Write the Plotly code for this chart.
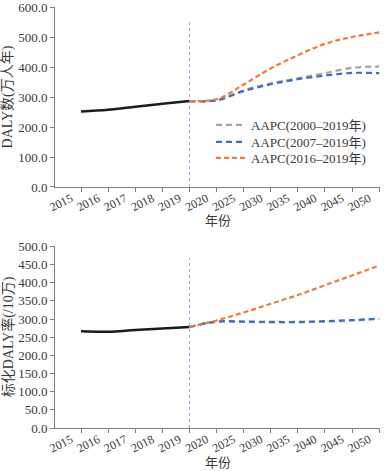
import plotly.graph_objects as go
from plotly.subplots import make_subplots

# Categories (x axis)
hist_years = ["2015", "2016", "2017", "2018", "2019"]
fc_years = ["2019", "2020", "2025", "2030", "2035", "2040", "2045", "2050"]
all_years = ["2015", "2016", "2017", "2018", "2019", "2020", "2025", "2030", "2035", "2040", "2045", "2050"]

# Top panel: DALY counts (10,000 person-years)
daly_hist = [252, 258, 268, 278, 287]
daly_aapc_2000 = [287, 290, 323, 346, 363, 380, 398, 402]
daly_aapc_2007 = [287, 289, 320, 343, 360, 372, 381, 380]
daly_aapc_2016 = [287, 293, 342, 396, 440, 478, 501, 516]

# Bottom panel: standardized DALY rate (/100,000)
rate_hist = [266, 265, 270, 274, 278]
rate_aapc_2000 = [278, 292, 292, 291, 291, 293, 296, 300]
rate_aapc_2007 = [278, 293, 293, 292, 292, 294, 297, 301]
rate_aapc_2016 = [278, 296, 318, 342, 366, 393, 420, 447]

series_names = ["AAPC(2000–2019年)", "AAPC(2007–2019年)", "AAPC(2016–2019年)"]
colors = ["#A5A5A5", "#3F6EC0", "#EE7C3A"]
dashes = ["6px,4px", "6px,4px", "5px,3px"]
legend_ids = ["legend", "legend2", "legend3"]

FONT = "Liberation Serif, Noto Sans CJK SC, serif"
TXT = "#3a3a3a"

fig = make_subplots(rows=2, cols=1, vertical_spacing=0.0)

def add_panel(row, hist, fcs, showlegend):
    fig.add_trace(go.Scatter(x=hist_years, y=hist, mode="lines", line=dict(color="#1b1b1b", width=2.5, shape="spline"),
                             showlegend=False, hoverinfo="skip"), row=row, col=1)
    for name, vals, c, d, lg in zip(series_names, fcs, colors, dashes, legend_ids):
        fig.add_trace(go.Scatter(x=fc_years, y=vals, mode="lines", name=name,
                                 line=dict(color=c, width=2.2, dash=d, shape="spline", smoothing=1.0),
                                 showlegend=showlegend, legend=lg), row=row, col=1)

add_panel(1, daly_hist, [daly_aapc_2000, daly_aapc_2007, daly_aapc_2016], True)
add_panel(2, rate_hist, [rate_aapc_2000, rate_aapc_2007, rate_aapc_2016], False)

idx2019 = all_years.index("2019")
fig.add_shape(type="line", x0=idx2019, x1=idx2019, y0=0, y1=550, xref="x", yref="y",
              line=dict(color="#8EA9DB", width=1, dash="dot"), layer="below")
fig.add_shape(type="line", x0=idx2019, x1=idx2019, y0=0, y1=467, xref="x2", yref="y2",
              line=dict(color="#8EA9DB", width=1, dash="dot"), layer="below")

axis_common = dict(showgrid=False, zeroline=False, showline=True, linecolor="#7f7f7f", linewidth=1,
                   ticks="outside", ticklen=4, tickcolor="#7f7f7f", ticklabeloverflow="allow")

for r in (1, 2):
    fig.update_xaxes(type="category", categoryorder="array", categoryarray=all_years,
                     tickvals=all_years, ticktext=all_years, range=[-0.96, 11.03], tickangle=-27,
                     tickfont=dict(family=FONT, size=12, color=TXT),
                     ticklabelshift=-10, ticklabelstandoff=-5, row=r, col=1, **axis_common)

fig.update_yaxes(range=[0, 601], tickvals=[0, 100, 200, 300, 400, 500, 600], tickformat=".1f",
                 tickfont=dict(family=FONT, size=13, color=TXT),
                 title=dict(text="DALY数(万人年)", font=dict(family=FONT, size=14, color=TXT), standoff=3),
                 row=1, col=1, **axis_common)
fig.update_yaxes(range=[0, 501], tickvals=[0, 50, 100, 150, 200, 250, 300, 350, 400, 450, 500], tickformat=".1f",
                 tickfont=dict(family=FONT, size=13, color=TXT),
                 title=dict(text="标化DALY率(/10万)", font=dict(family=FONT, size=14, color=TXT), standoff=3),
                 row=2, col=1, **axis_common)

# x-axis titles
for ypos in (0.4917, -0.0808):
    fig.add_annotation(text="年份", xref="paper", yref="paper", x=0.5, y=ypos, xanchor="center", yanchor="middle",
                       showarrow=False, font=dict(family=FONT, size=13, color=TXT))

legend_style = dict(x=0.48, xanchor="left", yanchor="middle", bgcolor="rgba(0,0,0,0)",
                    font=dict(family=FONT, size=13, color=TXT), itemwidth=30)
legend_y = [(428 - 125) / 421, (428 - 142) / 421, (428 - 158) / 421]

fig.update_layout(
    width=384, height=471,
    margin=dict(l=55, r=4, t=7, b=43),
    paper_bgcolor="white", plot_bgcolor="white",
    font=dict(family=FONT, size=13, color=TXT),
    legend=dict(y=legend_y[0], **legend_style),
    legend2=dict(y=legend_y[1], **legend_style),
    legend3=dict(y=legend_y[2], **legend_style),
)
fig.update_yaxes(domain=[0.5725, 1.0], row=1, col=1)
fig.update_yaxes(domain=[0.0, 0.4323], row=2, col=1)
for ax in ("xaxis", "xaxis2", "yaxis", "yaxis2"):
    fig.layout[ax].automargin = False

fig.write_html("out.html", config={"displayModeBar": False},
               post_script="document.body.style.margin='0';document.body.style.padding='0';")
